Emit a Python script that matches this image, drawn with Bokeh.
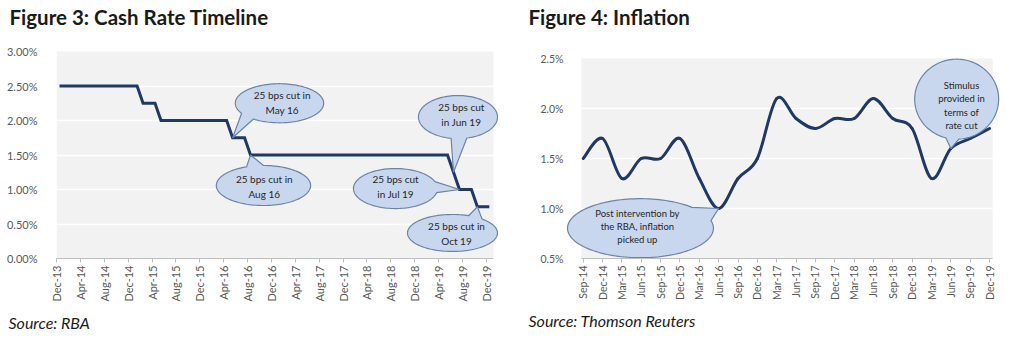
import math
from bokeh.plotting import figure
from bokeh.models import Range1d, FixedTicker, PrintfTickFormatter, BoxAnnotation, Title
from bokeh.layouts import row
from bokeh.embed import file_html
from bokeh.resources import INLINE
from bokeh.core.properties import value

# ---------------- data ----------------
cash_tick_labels = ["Dec-13", "Apr-14", "Aug-14", "Dec-14", "Apr-15", "Aug-15", "Dec-15",
                    "Apr-16", "Aug-16", "Dec-16", "Apr-17", "Aug-17", "Dec-17", "Apr-18",
                    "Aug-18", "Dec-18", "Apr-19", "Aug-19", "Dec-19"]
# monthly cash rate, Dec-13 .. Dec-19
cash_rate = [
    2.50, 2.50, 2.50, 2.50, 2.50, 2.50, 2.50, 2.50, 2.50, 2.50, 2.50, 2.50, 2.50, 2.50,
    2.25, 2.25, 2.25,
    2.00, 2.00, 2.00, 2.00, 2.00, 2.00, 2.00, 2.00, 2.00, 2.00, 2.00, 2.00,
    1.75, 1.75, 1.75,
    1.50, 1.50, 1.50, 1.50, 1.50, 1.50, 1.50, 1.50, 1.50, 1.50, 1.50, 1.50,
    1.50, 1.50, 1.50, 1.50, 1.50, 1.50, 1.50, 1.50, 1.50, 1.50, 1.50, 1.50,
    1.50, 1.50, 1.50, 1.50, 1.50, 1.50, 1.50, 1.50, 1.50, 1.50,
    1.25,
    1.00, 1.00, 1.00,
    0.75, 0.75, 0.75,
]
cash_y_ticks = [0.0, 0.5, 1.0, 1.5, 2.0, 2.5, 3.0]

infl_labels = ["Sep-14", "Dec-14", "Mar-15", "Jun-15", "Sep-15", "Dec-15", "Mar-16", "Jun-16",
               "Sep-16", "Dec-16", "Mar-17", "Jun-17", "Sep-17", "Dec-17", "Mar-18", "Jun-18",
               "Sep-18", "Dec-18", "Mar-19", "Jun-19", "Sep-19", "Dec-19"]
inflation = [1.5, 1.7, 1.3, 1.5, 1.5, 1.7, 1.3, 1.0, 1.3, 1.5, 2.1, 1.9,
             1.8, 1.9, 1.9, 2.1, 1.9, 1.8, 1.3, 1.6, 1.7, 1.8]
infl_y_ticks = [0.5, 1.0, 1.5, 2.0, 2.5]

cash_notes = ["25 bps cut in\nMay 16", "25 bps cut in\nAug 16", "25 bps cut\nin Jun 19",
              "25 bps cut\nin Jul 19", "25 bps cut in\nOct 19"]
cash_note_month = [29, 32, 66, 67, 70]
infl_notes = ["Post intervention by\nthe RBA, inflation\npicked up", "Stimulus\nprovided in\nterms of\nrate cut"]
infl_note_quarter = [7, 19]

# ---------------- styling / layout ----------------
LINE = "#1F3864"
BG = "#F2F2F2"
FILL = "#C8D7EE"
EDGE = "#6B84A6"
AXIS_TXT = "#595959"
FONT = "Lato"
TOP = 30      # frame top (px); the grey plot area starts lower
BOTTOM = 89   # space below the frame

# callout geometry: centre, radii, tail-base angles (deg), text centre
cash_geom = [
    dict(c=(37.35, 2.25), r=(7.4, 0.283), base=(-149, -126), t=(37.8, 2.26)),
    dict(c=(34.67, 1.058), r=(7.9, 0.29), base=(90, 111), t=(34.8, 1.05)),
    dict(c=(67.25, 2.05), r=(6.62, 0.312), base=(-100, -77), t=(67.8, 2.08)),
    dict(c=(56.78, 1.014), r=(7.04, 0.29), base=(-12, 20), t=(56.8, 1.04)),
    dict(c=(66.33, 0.37), r=(7.54, 0.268), base=(49, 69), t=(67.0, 0.36)),
]
infl_geom = [
    dict(c=(2.96, 0.803), r=(3.77, 0.295), base=(15, 45), t=(2.8, 0.823)),
    dict(c=(19.30, 2.093), r=(2.17, 0.40), base=(-105, -87), t=(19.55, 2.03)),
]


def bubble(cx, cy, rx, ry, tx, ty, a1, a2, n=120):
    start = math.radians(a2)
    end = math.radians(a1 + 360)
    xs, ys = [], []
    for k in range(n + 1):
        t = start + (end - start) * k / n
        xs.append(cx + rx * math.cos(t))
        ys.append(cy + ry * math.sin(t))
    xs.append(tx)
    ys.append(ty)
    return xs, ys


def make_fig(width, xr, yr, ml, mr):
    p = figure(width=width, height=347, x_range=Range1d(*xr), y_range=Range1d(*yr),
               output_backend="svg", toolbar_location=None, title=None,
               min_border_left=ml, min_border_right=mr, min_border_top=TOP,
               min_border_bottom=BOTTOM)
    p.outline_line_color = None
    p.background_fill_color = "white"
    p.border_fill_color = "white"
    p.xgrid.visible = False
    p.ygrid.grid_line_color = "white"
    p.ygrid.grid_line_width = 1.5
    p.yaxis.axis_line_color = None
    p.yaxis.major_tick_line_color = None
    p.yaxis.minor_tick_line_color = None
    p.yaxis.major_label_text_font = FONT
    p.yaxis.major_label_text_color = AXIS_TXT
    p.xaxis.axis_line_color = "#BFBFBF"
    p.xaxis.major_tick_line_color = "#BFBFBF"
    p.xaxis.minor_tick_line_color = None
    p.xaxis.major_tick_in = 0
    p.xaxis.major_tick_out = 4
    p.xaxis.major_label_orientation = math.pi / 2
    p.xaxis.major_label_text_font = FONT
    p.xaxis.major_label_text_color = AXIS_TXT
    p.xaxis.major_label_standoff = 3
    return p


def add_titles(p, head, source, head_offset, src_offset):
    p.add_layout(Title(text=head, align="left", offset=head_offset, standoff=0,
                       vertical_align="top",
                       text_font=FONT, text_font_size="20.5px", text_font_style="bold",
                       text_color="#1A1A1A"), "above")
    p.add_layout(Title(text=source, align="left", offset=src_offset, standoff=12,
                       text_font=FONT, text_font_size="16px", text_font_style="italic",
                       text_color="#1A1A1A"), "below")


FRAME_H = 347 - TOP - BOTTOM

# ---------------- Figure 3 ----------------
PX1 = 5.97   # px per month
PY1 = 69.0   # px per percentage point
p1 = make_fig(510, (0, 442 / PX1), (0, FRAME_H / PY1), 56, 12)
p1.add_layout(BoxAnnotation(left=0, right=73.2, bottom=0, top=3.0, fill_color=BG,
                            fill_alpha=1.0, line_color=None, level="image"))
yt1 = FixedTicker(ticks=cash_y_ticks)
p1.yaxis.ticker = yt1
p1.ygrid.ticker = FixedTicker(ticks=cash_y_ticks[:-1])
p1.yaxis.formatter = PrintfTickFormatter(format="%.2f%%")
p1.yaxis.major_label_text_font_size = "11px"
p1.yaxis.major_label_standoff = 13
xt1 = [4 * i for i in range(len(cash_tick_labels))]
p1.xaxis.ticker = FixedTicker(ticks=xt1)
p1.xaxis.major_label_overrides = {t: lab for t, lab in zip(xt1, cash_tick_labels)}
p1.xaxis.major_label_text_font_size = "11px"
p1.xaxis.bounds = (0, 73.2)

cash_x = [i + 0.5 for i in range(len(cash_rate))]
p1.line(cash_x, cash_rate, line_color=LINE, line_width=3, line_join="miter")

bx, by, tx_, ty_, tt = [], [], [], [], []
for g, m, note in zip(cash_geom, cash_note_month, cash_notes):
    xs, ys = bubble(g["c"][0], g["c"][1], g["r"][0], g["r"][1],
                    cash_x[m], cash_rate[m], g["base"][0], g["base"][1])
    bx.append(xs); by.append(ys)
    tx_.append(g["t"][0]); ty_.append(g["t"][1]); tt.append(note)
p1.patches(bx, by, fill_color=FILL, line_color=EDGE, line_width=1.2)
p1.text(tx_, ty_, text=tt, text_font=value(FONT), text_font_size=value("10px"),
        text_align="center", text_baseline="middle", text_color="#262626",
        text_line_height=1.25)
add_titles(p1, "Figure 3: Cash Rate Timeline", "Source: RBA", -47, -48)

# ---------------- Figure 4 ----------------
PX2 = 19.35  # px per quarter
PY2 = 100.0  # px per percentage point
x0 = -(582.7 - 562) / PX2
p2 = make_fig(505, (x0, x0 + 439 / PX2), (0.5, 0.5 + FRAME_H / PY2), 52, 14)
p2.add_layout(BoxAnnotation(left=-0.09, right=21.16, bottom=0.5, top=2.5, fill_color=BG,
                            fill_alpha=1.0, line_color=None, level="image"))
yt2 = FixedTicker(ticks=infl_y_ticks)
p2.yaxis.ticker = yt2
p2.ygrid.ticker = FixedTicker(ticks=infl_y_ticks[:-1])
p2.yaxis.formatter = PrintfTickFormatter(format="%.1f%%")
p2.yaxis.major_label_text_font_size = "10.5px"
p2.yaxis.major_label_standoff = -7
xt2 = list(range(len(infl_labels)))
p2.xaxis.ticker = FixedTicker(ticks=xt2)
p2.xaxis.major_label_overrides = {t: lab for t, lab in zip(xt2, infl_labels)}
p2.xaxis.major_label_text_font_size = "10.5px"
p2.xaxis.bounds = (-0.09, 21.16)

# smooth line via cubic Bezier segments (Catmull-Rom control points)
n = len(inflation)
P = [(float(i), inflation[i]) for i in range(n)]
bz = {k: [] for k in ("x0", "y0", "x1", "y1", "cx0", "cy0", "cx1", "cy1")}
for i in range(n - 1):
    a = P[i - 1] if i > 0 else P[i]
    b = P[i]
    c = P[i + 1]
    d = P[i + 2] if i + 2 < n else P[i + 1]
    bz["x0"].append(b[0]); bz["y0"].append(b[1])
    bz["x1"].append(c[0]); bz["y1"].append(c[1])
    bz["cx0"].append(b[0] + (c[0] - a[0]) / 6); bz["cy0"].append(b[1] + (c[1] - a[1]) / 6)
    bz["cx1"].append(c[0] - (d[0] - b[0]) / 6); bz["cy1"].append(c[1] - (d[1] - b[1]) / 6)
p2.bezier(line_color=LINE, line_width=3, line_cap="round", **bz)

bx, by, tx_, ty_, tt = [], [], [], [], []
for g, q, note in zip(infl_geom, infl_note_quarter, infl_notes):
    xs, ys = bubble(g["c"][0], g["c"][1], g["r"][0], g["r"][1],
                    float(q), inflation[q], g["base"][0], g["base"][1])
    bx.append(xs); by.append(ys)
    tx_.append(g["t"][0]); ty_.append(g["t"][1]); tt.append(note)
p2.patches(bx, by, fill_color=FILL, line_color=EDGE, line_width=1.2)
p2.text(tx_, ty_, text=tt, text_font=value(FONT), text_font_size=value("9.5px"),
        text_align="center", text_baseline="middle", text_color="#262626",
        text_line_height=1.2)
add_titles(p2, "Figure 4: Inflation", "Source: Thomson Reuters", -34, -34)

layout = row(p1, p2)
open("out.html", "w").write(file_html(layout, INLINE))
